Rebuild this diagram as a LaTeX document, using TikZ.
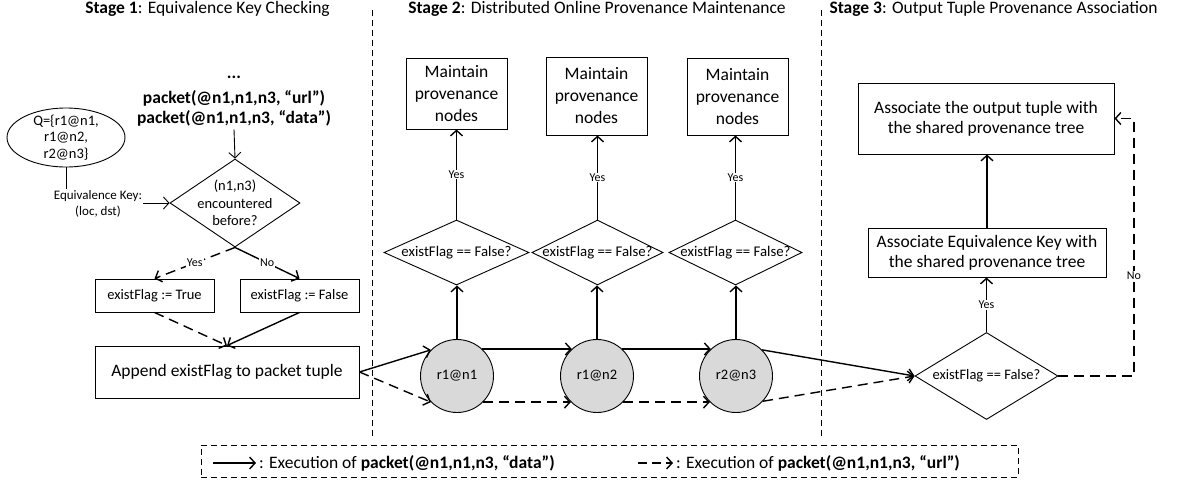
\documentclass[tikz,border=0pt]{standalone}
\usepackage{fontspec}
\setmainfont{Carlito}
\usetikzlibrary{arrows.meta,shapes.geometric,calc}
\newcommand\fbig{\fontsize{17.5}{21}\selectfont}
\newcommand\fmaint{\fontsize{17.5}{22}\selectfont}
\newcommand\fmid{\fontsize{14.5}{17.5}\selectfont}
\newcommand\fsml{\fontsize{13}{16}\selectfont}
\newcommand\ftiny{\fontsize{12}{14}\selectfont}
\tikzset{
  stagebox/.style={draw, line width=0.9pt, inner sep=2pt, align=center, font=\fbig},
  dia/.style={draw, diamond, line width=0.9pt, inner sep=0pt},
  conn/.style={line width=1.4pt, -{Straight Barb[length=5.5pt,width=12pt]}},
  dconn/.style={conn, dash pattern=on 10pt off 6pt},
  lbl/.style={fill=white, inner sep=1pt, font=\ftiny},
  seprule/.style={line width=0.8pt, dash pattern=on 6pt off 4pt},
  pnode/.style={draw, circle, line width=0.9pt, fill=black!15, minimum size=73pt, inner sep=0pt, font=\fmid},
}
\begin{document}
\begin{tikzpicture}[x=1pt,y=-1pt]
\useasboundingbox (0,0) rectangle (1178,485);
% titles
\node[font=\fbig] (t1) at (207.5,9) {\textbf{Stage 1}: Equivalence Key Checking};
\node[font=\fbig] (t2) at (597,9) {\textbf{Stage 2}: Distributed Online Provenance Maintenance};
\node[font=\fbig] (t3) at (993.5,9) {\textbf{Stage 3}: Output Tuple Provenance Association};
% separators
\draw[seprule] (372,10) -- (372,439);
\draw[seprule] (821.5,10) -- (821.5,439);
% ---------- Stage 1
\node[font=\fbig\bfseries] (dots) at (234,77) {...};
\node[font=\fbig\bfseries] (pu) at (234,98) {packet(@n1,n1,n3, “url”)};
\node[font=\fbig\bfseries] (pd) at (234,118) {packet(@n1,n1,n3, “data”)};
\node[dia, minimum width=130pt, minimum height=88pt,
      label={[align=center,font=\fmid]center:{(n1,n3)\\encountered\\before?}}] (d1) at (235,203) {};
\node[draw, ellipse, line width=0.9pt, minimum width=118pt, minimum height=59pt, inner sep=0pt,
      label={[align=center,font=\fontsize{14.5}{16.5}\selectfont]center:{Q=\{r1@n1,\\r1@n2,\\r2@n3\}}}] (ell) at (66,137.5) {};
\node[align=center, font=\fsml, inner sep=1pt] (eqk) at (98,204) {Equivalence Key:\\(loc, dst)};
\draw[line width=0.9pt] (ell.south) -- (ell.south |- eqk.north);
\draw[conn, line width=0.9pt] (eqk.east |- d1.west) -- (d1.west);
\draw[conn, line width=0.9pt] (pd.south) -- (d1.north);
\node[stagebox, font=\fmid, minimum width=119pt, minimum height=33pt] (tr) at (154.5,295.5) {existFlag := True};
\node[stagebox, font=\fmid, minimum width=119pt, minimum height=33pt] (fa) at (299.5,295.5) {existFlag := False};
\node[stagebox, minimum width=264pt, minimum height=52pt] (app) at (227,372) {Append existFlag to packet tuple};
\draw[dconn] (d1.south) -- node[lbl]{Yes} (tr.north);
\draw[conn] (d1.south) -- node[lbl]{No} (fa.north);
\draw[dconn] (tr.south) -- (app.north);
\draw[conn] (fa.south) -- (app.north);
% ---------- Stage 2
\node[pnode] (c1) at (457,376) {r1@n1};
\node[pnode] (c2) at (597,376) {r1@n2};
\node[pnode] (c3) at (736,376) {r2@n3};
\node[dia, minimum width=145pt, minimum height=65pt,
      label={[font=\fontsize{14.8}{17}\selectfont]center:existFlag == False?}] (s1) at (456.5,252.5) {};
\node[dia, minimum width=131pt, minimum height=65pt,
      label={[font=\fontsize{14.8}{17}\selectfont]center:existFlag == False?}] (s2) at (597.5,252.5) {};
\node[dia, minimum width=133pt, minimum height=65pt,
      label={[font=\fontsize{14.8}{17}\selectfont]center:existFlag == False?}] (s3) at (735.5,252.5) {};
\node[stagebox, font=\fmaint, minimum width=101pt, minimum height=71pt] (m1) at (456.5,93.5) {Maintain\\provenance\\nodes};
\node[stagebox, font=\fmaint, minimum width=101pt, minimum height=78pt] (m2) at (596.5,96) {Maintain\\provenance\\nodes};
\node[stagebox, font=\fmaint, minimum width=101pt, minimum height=77pt] (m3) at (737.5,96.5) {Maintain\\provenance\\nodes};
\foreach \i in {1,2,3} {
  \draw[conn] (c\i.north) -- (c\i.north |- s\i.south);
  \draw[conn] (s\i.north) -- node[lbl]{Yes} (s\i.north |- m\i.south);
}
\draw[conn] (app.east) -- (c1.135);
\draw[dconn] (app.east) -- (c1.225);
\draw[conn] (c1.47) -- (c2.133);
\draw[dconn] (c1.-45) -- (c2.-135);
\draw[conn] (c2.47) -- (c3.133);
\draw[dconn] (c2.-45) -- (c3.-135);
% ---------- Stage 3
\node[dia, minimum width=143pt, minimum height=87pt,
      label={[font=\fmid]center:existFlag == False?}] (d3) at (986.5,376) {};
\node[stagebox, font=\fontsize{17.5}{20}\selectfont, minimum width=238pt, minimum height=49pt] (ek) at (987,252.5) {Associate Equivalence Key with\\the shared provenance tree};
\node[stagebox, font=\fontsize{17.5}{20}\selectfont, minimum width=256pt, minimum height=71pt] (ot) at (986,118.5) {Associate the output tuple with\\the shared provenance tree};
\draw[conn] (c3.45) -- (d3.west);
\draw[dconn] (c3.-43) -- (d3.west);
\draw[conn] (d3.north) -- node[lbl]{Yes} (d3.north |- ek.south);
\draw[conn] (ek.north) -- (ek.north |- ot.south);
\coordinate (k1) at (1134,376);
\draw[dconn] (d3.east) -- (k1) -- node[lbl, pos=0.39]{No} (k1 |- ot.east) -- (ot.east);
% ---------- Legend
\node[draw, line width=0.8pt, dash pattern=on 6pt off 4pt, minimum width=817pt, minimum height=32pt, inner sep=0pt] (leg) at (609.5,461) {};
\coordinate (la1) at (213,463);
\node[anchor=west, font=\fbig, inner sep=0pt] (lt1) at (259,463) {: Execution of \textbf{packet(@n1,n1,n3, “data”)}};
\draw[conn, shorten >=3pt] (la1) -- (lt1.west);
\coordinate (la2) at (638,463);
\node[anchor=west, font=\fbig, inner sep=0pt] (lt2) at (676,463) {: Execution of \textbf{packet(@n1,n1,n3, “url”)}};
\draw[conn, shorten >=3pt, dash pattern=on 9pt off 5pt] (la2) -- (lt2.west);
\end{tikzpicture}
\end{document}
